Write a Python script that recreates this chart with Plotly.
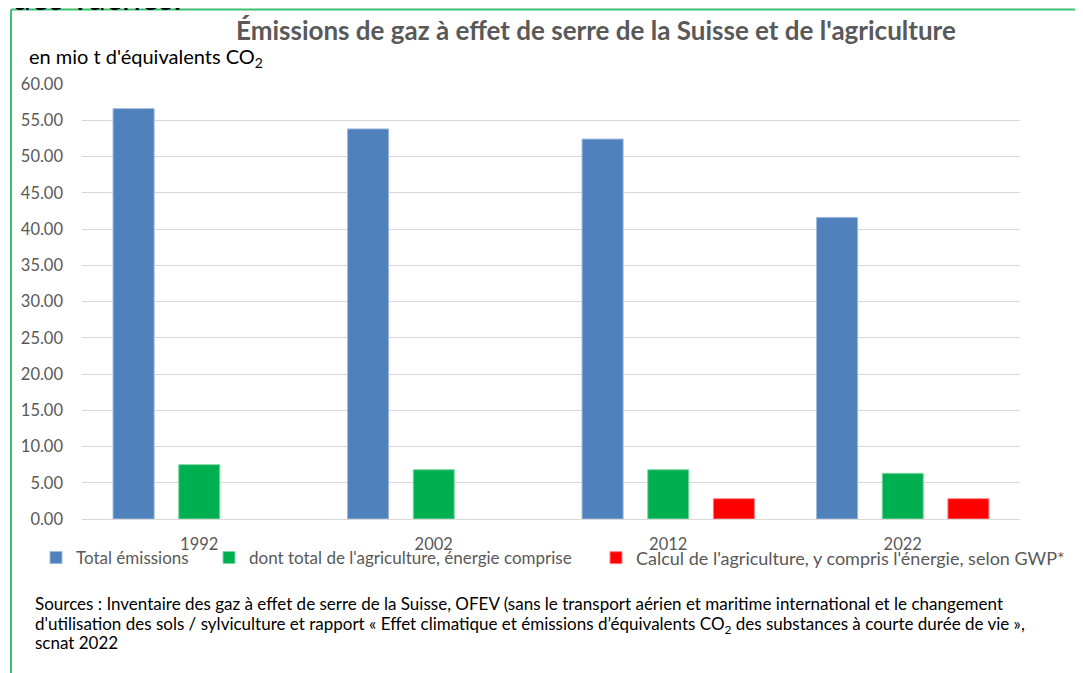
import plotly.graph_objects as go

# ---- data ----
years = ["1992", "2002", "2012", "2022"]
total_emissions = [56.6, 53.8, 52.4, 41.6]
agri_total = [7.5, 6.8, 6.8, 6.3]
agri_gwp_star = [None, None, 2.8, 2.8]

series_names = [
    "Total émissions",
    "dont total de l'agriculture, énergie comprise",
    "Calcul de l'agriculture, y compris l'énergie, selon GWP*",
]
colors = ["#4F81BD", "#00B050", "#FF0000"]
edge_colors = ["#9DB8DC", "#7FD8A7", "#FF8080"]

title_text = "Émissions de gaz à effet de serre de la Suisse et de l'agriculture"
unit_text = "en mio t d'équivalents CO<sub>2</sub>"
source_lines = [
    "Sources : Inventaire des gaz à effet de serre de la Suisse, OFEV (sans le transport aérien et maritime international et le changement",
    "d'utilisation des sols / sylviculture et rapport « Effet climatique et émissions d’équivalents CO<sub>2</sub> des substances à courte durée de vie »,",
    "scnat 2022",
]

# page body has an 8px margin: work in window pixels and convert
OFF = 8
W, H = 1083, 673
PL, PR, PT, PB = 82, 1020, 84, 519          # plot area in window pixels
ML, MT = PL - OFF, PT - OFF
MR, MB = W - (PR - OFF), H - (PB - OFF)
PW, PH = PR - PL, PB - PT


def px(x):
    return (x - PL) / PW


def py(y):
    return (PB - y) / PH


FONT = "Lato"
GREY = "#595959"

fig = go.Figure()
legend_ids = ["legend", "legend2", "legend3"]
for name, vals, c, ec, lg in zip(series_names, [total_emissions, agri_total, agri_gwp_star],
                                 colors, edge_colors, legend_ids):
    fig.add_trace(go.Bar(
        x=years, y=vals, name=name, legend=lg,
        marker=dict(color=c, line=dict(color=ec, width=1)),
    ))

legend_x = [36, 209, 596]
legend_size = [17, 17, 18]


def legend_cfg(x, size):
    return dict(orientation="h", xanchor="left", yanchor="middle",
                x=px(x), y=py(558),
                font=dict(family=FONT, size=size, color=GREY),
                bgcolor="rgba(0,0,0,0)", itemclick=False, itemdoubleclick=False)


fig.update_layout(
    width=W, height=H,
    margin=dict(l=ML, r=MR, t=MT, b=MB, autoexpand=False),
    paper_bgcolor="white", plot_bgcolor="white",
    barmode="group", bargap=0.16, bargroupgap=0.375,
    font=dict(family=FONT, color=GREY, size=16),
    showlegend=True,
    legend=legend_cfg(legend_x[0], legend_size[0]),
    legend2=legend_cfg(legend_x[1], legend_size[1]),
    legend3=legend_cfg(legend_x[2], legend_size[2]),
)

fig.update_yaxes(
    range=[0, 60], dtick=5, tickformat=".2f",
    showgrid=True, gridcolor="#D9D9D9", gridwidth=1,
    zeroline=True, zerolinecolor="#D9D9D9", zerolinewidth=1,
    showline=False, ticks="", ticklabelstandoff=18,
    tickfont=dict(family=FONT, size=16.5, color=GREY),
)
fig.update_xaxes(
    showgrid=False, showline=False, ticks="", ticklabelstandoff=13,
    tickfont=dict(family=FONT, size=16.5, color=GREY),
)

annotations = [
    dict(text=title_text, x=px(595.5), y=py(30), xref="paper", yref="paper",
         xanchor="center", yanchor="middle", showarrow=False,
         font=dict(family=FONT, size=26, color=GREY, weight="bold")),
    dict(text=unit_text, x=px(27), y=py(57), xref="paper", yref="paper",
         xanchor="left", yanchor="middle", showarrow=False,
         font=dict(family=FONT, size=20, color="black")),
    dict(text="des vaches.", x=px(10), y=py(19), xref="paper", yref="paper",
         xanchor="left", yanchor="bottom", showarrow=False,
         font=dict(family=FONT, size=34, color="black")),
]
for line, yy in zip(source_lines, [603, 622.5, 642]):
    annotations.append(dict(text=line, x=px(33), y=py(yy - 12), xref="paper", yref="paper",
                            xanchor="left", yanchor="top", align="left", showarrow=False,
                            font=dict(family=FONT, size=17, color="black")))
fig.update_layout(annotations=annotations)

frame = "#3CBF6E"
fig.update_layout(shapes=[
    dict(type="line", xref="paper", yref="paper", x0=px(11), x1=px(W + 20), y0=py(9.5), y1=py(9.5),
         line=dict(color=frame, width=2)),
    dict(type="line", xref="paper", yref="paper", x0=px(11), x1=px(11), y0=py(9.5), y1=py(H + 20),
         line=dict(color=frame, width=2)),
])

fig.write_html("out.html")
